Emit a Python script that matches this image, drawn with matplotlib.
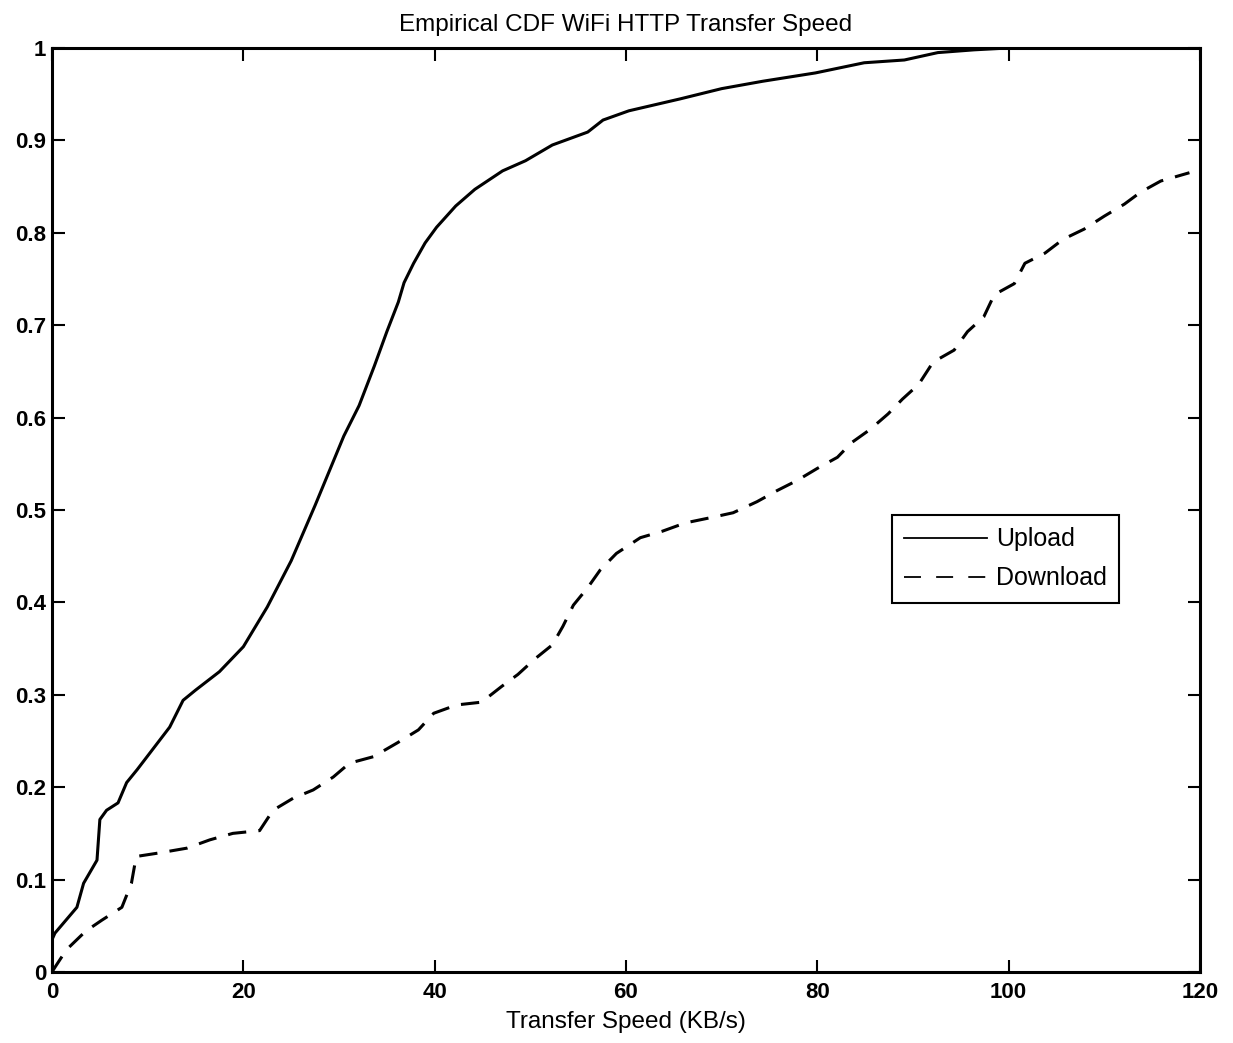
import matplotlib.pyplot as plt

plt.rcParams['font.family'] = ['Liberation Sans', 'DejaVu Sans']

# upload CDF
upload_x = [0, 0, 0.3, 2.6, 3.3, 4.7, 5.0, 5.7, 6.9, 7.8, 8.9, 10.6, 12.3, 13.7, 15.0,
            17.5, 20.0, 22.5, 25.0, 27.5, 30.5, 32.1, 33.7, 35.0, 36.2, 36.8, 37.8,
            39.0, 40.2, 42.2, 44.2, 47.1, 49.5, 52.3, 56.0, 57.6, 60.3, 65.7, 70.0,
            74.3, 79.8, 84.9, 89.1, 92.6, 96.4, 100.0, 120.0]
upload_y = [0, 0.035, 0.042, 0.07, 0.096, 0.121, 0.165, 0.175, 0.183, 0.205, 0.219,
            0.242, 0.265, 0.294, 0.305, 0.325, 0.352, 0.395, 0.445, 0.505, 0.58,
            0.613, 0.656, 0.693, 0.725, 0.746, 0.767, 0.789, 0.806, 0.829, 0.847,
            0.867, 0.878, 0.895, 0.909, 0.922, 0.932, 0.945, 0.956, 0.964, 0.973,
            0.984, 0.987, 0.995, 0.998, 1.0, 1.0]

# download CDF
download_x = [0, 0.3, 1.5, 3.5, 5.2, 7.3, 8.3, 8.8, 11.3, 14.1, 16.5, 18.9, 21.7,
              23.1, 25.2, 27.3, 29.4, 31.1, 33.6, 36.1, 38.3, 39.9, 42.3, 44.9,
              47.0, 48.7, 50.5, 52.3, 53.4, 54.5, 56.0, 57.3, 59.0, 61.5, 63.8,
              66.2, 69.0, 71.2, 73.7, 75.8, 77.9, 80.0, 82.1, 83.6, 85.5, 87.4,
              88.9, 90.6, 92.1, 94.3, 95.7, 97.4, 98.5, 100.6, 101.7, 103.8,
              105.7, 107.9, 110.0, 112.1, 113.8, 115.9, 118.9]
download_y = [0, 0.005, 0.024, 0.044, 0.056, 0.070, 0.096, 0.125, 0.129, 0.134,
              0.143, 0.150, 0.153, 0.175, 0.188, 0.197, 0.211, 0.226, 0.233,
              0.248, 0.262, 0.280, 0.289, 0.292, 0.309, 0.322, 0.339, 0.354,
              0.374, 0.397, 0.416, 0.435, 0.453, 0.470, 0.477, 0.486, 0.492,
              0.497, 0.509, 0.521, 0.532, 0.545, 0.557, 0.573, 0.587, 0.604,
              0.620, 0.636, 0.660, 0.673, 0.693, 0.709, 0.733, 0.745, 0.767,
              0.778, 0.793, 0.804, 0.818, 0.831, 0.844, 0.856, 0.865]

x_ticks = [0, 20, 40, 60, 80, 100, 120]
y_ticks = [0, 0.1, 0.2, 0.3, 0.4, 0.5, 0.6, 0.7, 0.8, 0.9, 1]
y_ticklabels = ['0', '0.1', '0.2', '0.3', '0.4', '0.5', '0.6', '0.7', '0.8', '0.9', '1']

fig = plt.figure(figsize=(12.33, 10.43), dpi=100)
ax = fig.add_axes([0.0422, 0.0681, 0.931, 0.8859])

ax.plot(upload_x, upload_y, color='black', lw=2.2, label='Upload')
ax.plot(download_x, download_y, color='black', lw=2.2, dashes=(6, 4), label='Download')

ax.set_xlim(0, 120)
ax.set_ylim(0, 1)
ax.set_xticks(x_ticks)
ax.set_yticks(y_ticks)
ax.set_yticklabels(y_ticklabels)
ax.tick_params(direction='in', length=9, width=1.5, top=True, right=True,
               labelsize=16)
ax.tick_params(axis='x', pad=7)
ax.tick_params(axis='y', pad=4)
for lab in ax.get_xticklabels() + ax.get_yticklabels():
    lab.set_fontweight('bold')
for s in ax.spines.values():
    s.set_linewidth(2.2)

ax.set_title('Empirical CDF WiFi HTTP Transfer Speed', fontsize=17.5, pad=12)
ax.set_xlabel('Transfer Speed (KB/s)', fontsize=17.5, labelpad=6)

leg = ax.legend(loc='upper left', bbox_to_anchor=(0.7317, 0.4946), borderaxespad=0,
                fontsize=18, handlelength=3.3, handletextpad=0.35, fancybox=False,
                framealpha=1, borderpad=0.5, labelspacing=0.6)
leg.get_frame().set_edgecolor('black')
leg.get_frame().set_linewidth(1.5)
hl = leg.get_lines()
hl[0].set_linewidth(1.3)
hl[1].set_linewidth(1.3)
hl[1].set_dashes((9.4, 8.4))

fig.savefig('out.png', dpi=100)
